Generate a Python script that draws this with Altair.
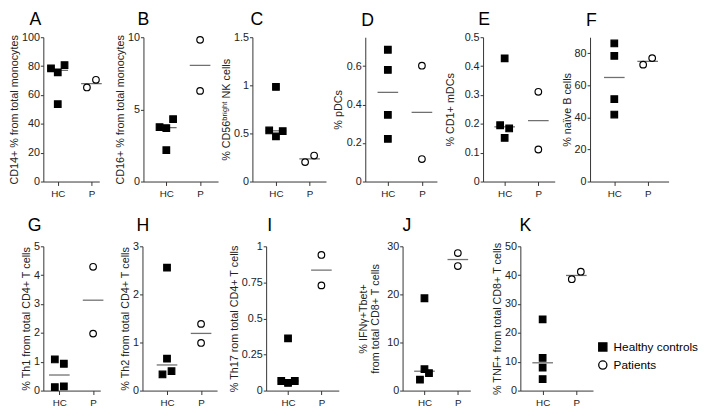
import altair as alt
import pandas as pd

FONT = "Liberation Sans, Arial, sans-serif"
GROUPS = ["Healthy controls", "Patients"]

# ---------------- data ----------------
A_hc = [78.4, 75.7, 80.7, 53.6]; A_hc_slot = [-1.5, 0, 1.5, 0]
A_p = [65.2, 70.5];             A_p_slot = [-1, 1]
B_hc = [3.77, 3.70, 4.32, 2.17]; B_hc_slot = [-1.5, 0, 1.5, 0]
B_p = [9.82, 6.28];              B_p_slot = [0, 0]
C_hc = [0.983, 0.531, 0.469, 0.524]; C_hc_slot = [0, -1.5, 0, 1.5]
C_p = [0.202, 0.27];                 C_p_slot = [-1, 1]
D_hc = [0.685, 0.58, 0.347, 0.222]; D_hc_slot = [0, 0, 0, 0]
D_p = [0.602, 0.117];               D_p_slot = [0, 0]
E_hc = [0.427, 0.195, 0.184, 0.151]; E_hc_slot = [0, -1, 1, 0]
E_p = [0.311, 0.111];                E_p_slot = [0, 0]
F_hc = [86.1, 78.4, 51.4, 41.8]; F_hc_slot = [0, 0, 0, 0]
F_p = [72.9, 77.0];              F_p_slot = [-1, 1]
G_hc = [1.08, 0.93, 0.12, 0.15]; G_hc_slot = [-1, 1, -1, 1]
G_p = [4.29, 1.975];             G_p_slot = [0, 0]
H_hc = [2.556, 0.663, 0.335, 0.403]; H_hc_slot = [0, 0, -1, 1]
H_p = [1.387, 0.991];                H_p_slot = [0, 0]
I_hc = [0.362, 0.0665, 0.053, 0.0665]; I_hc_slot = [0, -1.5, 0, 1.5]
I_p = [0.94, 0.729];                   I_p_slot = [0, 0]
J_hc = [19.2, 4.44, 3.62, 2.26]; J_hc_slot = [0, 0, 1, -1]
J_p = [28.6, 25.9];              J_p_slot = [0, 0]
K_hc = [24.7, 11.3, 7.97, 3.99]; K_hc_slot = [0, 0, 0, 0]
K_p = [38.6, 41.2];              K_p_slot = [-1, 1]

y_titles = {
    "A": "CD14+ % from total monocytes",
    "B": "CD16+ % from total monocytes",
    "C": "% CD56\u1d47\u02b3\u2071\u1d4d\u02b0\u1d57 NK cells",
    "D": "% pDCs",
    "E": "% CD1+ mDCs",
    "F": "% na\u00efve B cells",
    "G": "% Th1 from total CD4+ T cells",
    "H": "% Th2 from total CD4+ T cells",
    "I": "% Th17 rom total CD4+ T cells",
    "J": ["% IFN\u03b3+Tbet+", "from total CD8+ T cells"],
    "K": "% TNF+ from total CD8+ T cells",
}
y_max = {"A": 100, "B": 10, "C": 1.5, "D": 0.75, "E": 0.5, "F": 90,
         "G": 5, "H": 3, "I": 1, "J": 30, "K": 50}
y_ticks = {
    "A": [0, 20, 40, 60, 80, 100], "B": [0, 5, 10], "C": [0, 0.5, 1, 1.5],
    "D": [0, 0.2, 0.4, 0.6], "E": [0, 0.1, 0.2, 0.3, 0.4, 0.5],
    "F": [0, 20, 40, 60, 80], "G": [0, 1, 2, 3, 4, 5], "H": [0, 1, 2, 3],
    "I": [0, 0.25, 0.5, 0.75, 1], "J": [0, 10, 20, 30], "K": [0, 10, 20, 30, 40, 50],
}
DATA = {
    "A": (A_hc, A_hc_slot, A_p, A_p_slot), "B": (B_hc, B_hc_slot, B_p, B_p_slot),
    "C": (C_hc, C_hc_slot, C_p, C_p_slot), "D": (D_hc, D_hc_slot, D_p, D_p_slot),
    "E": (E_hc, E_hc_slot, E_p, E_p_slot), "F": (F_hc, F_hc_slot, F_p, F_p_slot),
    "G": (G_hc, G_hc_slot, G_p, G_p_slot), "H": (H_hc, H_hc_slot, H_p, H_p_slot),
    "I": (I_hc, I_hc_slot, I_p, I_p_slot), "J": (J_hc, J_hc_slot, J_p, J_p_slot),
    "K": (K_hc, K_hc_slot, K_p, K_p_slot),
}

# ---------------- layout (pixels) ----------------
LAYOUT = {
    "A": dict(W=57, hc=14.7, p=49.0, E=23, sp=0, dx=-14, off=2),
    "B": dict(W=76, hc=23.3, p=57.7, E=17, sp=12, dx=-6, off=2),
    "C": dict(W=75, hc=24.0, p=58.3, E=20, sp=3, dx=-2, off=2),
    "D": dict(W=73, hc=23.0, p=57.7, E=21, sp=7, dx=-4, off=7.5),
    "E": dict(W=73, hc=22.0, p=56.3, E=27, sp=8, dx=-5, off=2),
    "F": dict(W=80, hc=24.7, p=58.7, E=17, sp=7, dx=-4, off=7.5),
    "G": dict(W=58, hc=16.3, p=50.7, E=11, sp=0, dx=-16, off=5.7),
    "H": dict(W=76, hc=25.0, p=59.7, E=11, sp=15, dx=-6, off=5.7),
    "I": dict(W=74, hc=22.3, p=56.3, E=26, sp=11, dx=1, off=5.7),
    "J": dict(W=69, hc=22.3, p=56.3, E=22, sp=19, dx=0, off=5.7),
    "K": dict(W=74, hc=22.7, p=57.0, E=17, sp=21, dx=-1, off=5.7),
}
HEIGHT = 147

legend = alt.Legend(
    title=None, orient="none", legendX=564, legendY=309.5, padding=0,
    symbolSize=70, symbolStrokeWidth=1.3,
    labelFont=FONT, labelFontSize=12, labelColor="black",
    rowPadding=4.5, labelOffset=5,
)


def panel(key):
    hc, hcs, p, ps = DATA[key]
    L = LAYOUT[key]
    df = pd.DataFrame({
        "group": [GROUPS[0]] * len(hc) + [GROUPS[1]] * len(p),
        "gx": [1] * len(hc) + [2] * len(p),
        "value": hc + p,
        "slot": hcs + ps,
    })
    u = L["p"] - L["hc"]
    lo = 1 - L["hc"] / u
    hi = lo + L["W"] / u
    jit = 4.6 / u
    xs = alt.Scale(domain=[lo, hi], nice=False, zero=False)
    ys = alt.Scale(domain=[0, y_max[key]], nice=False)
    xaxis = alt.Axis(values=[1, 2], labelExpr="datum.value == 1 ? 'HC' : 'P'",
                     title=None, grid=False)
    yaxis = alt.Axis(values=y_ticks[key], labelExpr="'' + datum.value", title=y_titles[key],
                     minExtent=L["E"], maxExtent=L["E"], grid=False)
    base = alt.Chart(df)
    med = base.transform_aggregate(
        med="median(value)", groupby=["gx"]
    ).mark_tick(orient="horizontal", size=21, thickness=1.3, color="#333").encode(
        x=alt.X("gx:Q", scale=xs, axis=xaxis),
        y=alt.Y("med:Q", scale=ys, axis=yaxis),
    )
    pts = base.transform_calculate(
        xj=f"datum.gx + datum.slot * {jit}"
    ).mark_point(size=45, strokeWidth=1.2, opacity=1).encode(
        x=alt.X("xj:Q", scale=xs, axis=xaxis),
        y=alt.Y("value:Q", scale=ys, axis=yaxis),
        shape=alt.Shape("group:N", scale=alt.Scale(domain=GROUPS, range=["square", "circle"]),
                        legend=legend),
        fill=alt.Fill("group:N", scale=alt.Scale(domain=GROUPS, range=["black", "white"]),
                      legend=legend),
        stroke=alt.Stroke("group:N", scale=alt.Scale(domain=GROUPS, range=["black", "black"]),
                          legend=legend),
    )
    return alt.layer(med, pts).properties(
        width=L["W"], height=HEIGHT,
        title=alt.TitleParams(text=key, anchor="start", frame="group", fontSize=18,
                              font=FONT, fontWeight="normal", color="black",
                              dx=L["dx"], offset=L["off"]),
    )


def row(keys):
    r = panel(keys[0])
    for k in keys[1:]:
        r = alt.hconcat(r, panel(k), spacing=LAYOUT[k]["sp"])
    return r


chart = alt.vconcat(row(list("ABCDEF")), row(list("GHIJK")), spacing=19).properties(
    padding=0
).configure(background="white").configure_view(stroke=None).configure_axis(
    domainColor="#333", tickColor="#333", labelColor="#222", titleColor="#222",
    titleFontWeight="normal", grid=False,
).configure_axisX(
    labelFont=FONT, labelFontSize=10, tickSize=4, labelPadding=3,
).configure_axisY(
    labelFont=FONT, labelFontSize=11, tickSize=3, labelPadding=1,
    titleFont=FONT, titleFontSize=11, titlePadding=1, titleLineHeight=12,
)

chart.save("out.html", embed_options={"renderer": "svg", "actions": False})
